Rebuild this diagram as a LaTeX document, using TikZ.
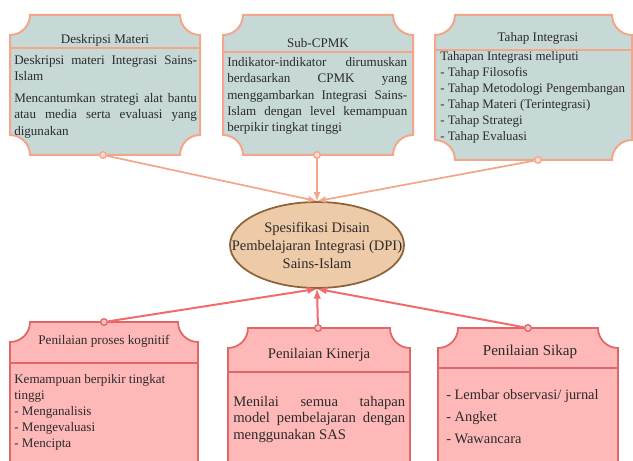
\documentclass[tikz,border=0pt]{standalone}
\usepackage{fontspec}
\setmainfont{Liberation Serif}
\usepackage{xcolor}
\usetikzlibrary{shapes.geometric}
\definecolor{tealbox}{HTML}{C6D9D7}
\definecolor{salmon}{HTML}{F4A68A}
\definecolor{tanfill}{HTML}{EECBA8}
\definecolor{tanline}{HTML}{8C6239}
\definecolor{pinkbox}{HTML}{FFB8B8}
\definecolor{redline}{HTML}{E06767}
\definecolor{redarrow}{HTML}{F26B6B}
\definecolor{ink}{HTML}{2B2B2B}
\newcommand{\plaque}[5][]{%
  \draw[#1] (#2+20,#5) -- (#4-20,#5) arc[start angle=180,end angle=270,radius=20]
    -- (#4,#3+20) arc[start angle=90,end angle=180,radius=20]
    -- (#2+20,#3) arc[start angle=0,end angle=90,radius=20]
    -- (#2,#5-20) arc[start angle=270,end angle=360,radius=20] -- cycle;}

\begin{document}
\begin{tikzpicture}[x=0.75pt,y=0.75pt,
    topbox/.style={draw=salmon,fill=tealbox,line width=1.5pt},
    botbox/.style={draw=redline,fill=pinkbox,line width=1.3pt},
    title/.style={text=ink,inner sep=0pt,font=\fontsize{9.8}{11}\selectfont},
    body/.style={text=ink,inner sep=0pt,anchor=north west,align=justify},
    pindot/.style={circle,inner sep=0pt,minimum size=5pt,line width=1pt}]
		\tikzset{>=latex}
		\useasboundingbox (0,0) rectangle (633,461);
		\clip (0,0) rectangle (633,461);
		\plaque[topbox]{10}{306}{200}{446}
		\draw[salmon,line width=1.5pt] (10,413) -- (200,413);
		\node[title] (dm-title) at (105,421) {Deskripsi Materi};
		\node[body,text width=137pt,font=\fontsize{9.8}{12.4}\selectfont] (dm-body) at (14,406)
			{Deskripsi materi Integrasi Sains-\linebreak Islam\par\vspace{3.5pt}
			 Mencantumkan strategi alat bantu\linebreak atau media serta evaluasi yang\linebreak digunakan};
		\node[pindot,draw=salmon,fill=salmon!40] (dm-pin) at (103,306) {};

		\plaque[topbox]{223}{306}{413}{446}
		\draw[salmon,line width=1.5pt] (223,409) -- (413,409);
		\node[title] (cp-title) at (318,418) {Sub-CPMK};
		\node[body,text width=135pt,font=\fontsize{9.8}{12.3}\selectfont] (cp-body) at (227,404)
			{Indikator-indikator dirumuskan\linebreak berdasarkan CPMK yang\linebreak menggambarkan Integrasi Sains-\linebreak Islam dengan level kemampuan\linebreak berpikir tingkat tinggi};
		\node[pindot,draw=salmon,fill=salmon!40] (cp-pin) at (317,306) {};

		\plaque[topbox]{435}{301}{632}{446}
		\draw[salmon,line width=1.5pt] (435,411) -- (632,411);
		\node[title] (ti-title) at (538,423) {Tahap Integrasi};
		\node[body,align=left,font=\fontsize{9.7}{12}\selectfont] (ti-body) at (440,410)
			{Tahapan Integrasi meliputi\\
			 - Tahap Filosofis\\
			 - Tahap Metodologi Pengembangan\\
			 - Tahap Materi (Terintegrasi)\\
			 - Tahap Strategi\\
			 - Tahap Evaluasi};
		\node[pindot,draw=salmon,fill=salmon!40] (ti-pin) at (538,301) {};

		\node[ellipse,draw=tanline,fill=tanfill,line width=1.3pt,minimum width=130.5pt,minimum height=64.5pt,
			inner sep=0pt] (spec) at (317,245-29) {};
		\node[align=center,text=ink,inner sep=0pt,font=\fontsize{10.9}{13.5}\selectfont] (spec-text) at (spec.center)
			{Spesifikasi Disain\\Pembelajaran Integrasi (DPI)\\Sains-Islam};

		\plaque[botbox]{10}{-30}{198}{139}
		\draw[redline,line width=1.3pt] (10,98) -- (198,98);
		\node[title,font=\fontsize{9.9}{11}\selectfont] (pk-title) at (104,120) {Penilaian proses kognitif};
		\node[body,align=left,font=\fontsize{9.8}{12}\selectfont] (pk-body) at (14,87)
			{Kemampuan berpikir tingkat\\tinggi\\
			 - Menganalisis\\
			 - Mengevaluasi\\
			 - Mencipta};
		\node[pindot,draw=redline,fill=redline!40] (pk-pin) at (104,139) {};

		\plaque[botbox]{228}{-30}{410}{133}
		\draw[redline,line width=1.3pt] (228,89) -- (410,89);
		\node[title,font=\fontsize{11}{12}\selectfont] (kin-title) at (319,106) {Penilaian Kinerja};
		\node[body,text width=129pt,font=\fontsize{11}{12.4}\selectfont] (kin-body) at (233,65)
			{Menilai semua tahapan\linebreak model pembelajaran dengan\linebreak menggunakan SAS};
		\node[pindot,draw=redline,fill=redline!40] (kin-pin) at (318,133) {};

		\plaque[botbox]{438}{-30}{618}{133}
		\draw[redline,line width=1.3pt] (438,93) -- (618,93);
		\node[title,font=\fontsize{11.3}{12}\selectfont] (sik-title) at (530,109) {Penilaian Sikap};
		\node[body,align=left,font=\fontsize{10.8}{16.5}\selectfont] (sik-body) at (446,72)
			{- Lembar observasi/ jurnal\\
			 - Angket\\
			 - Wawancara};
		\node[pindot,draw=redline,fill=redline!40] (sik-pin) at (528,133) {};

		\draw[salmon,line width=1.3pt,->] (dm-pin) -- (spec.north);
		\draw[salmon,line width=1.3pt,->] (cp-pin) -- (spec.north);
		\draw[salmon,line width=1.3pt,->] (ti-pin) -- (spec.north);
		\draw[redarrow,line width=1.5pt,->] (pk-pin) -- (spec.south);
		\draw[redarrow,line width=1.5pt,->] (kin-pin) -- (spec.south);
		\draw[redarrow,line width=1.5pt,->] (sik-pin) -- (spec.south);

	\end{tikzpicture}
\end{document}
